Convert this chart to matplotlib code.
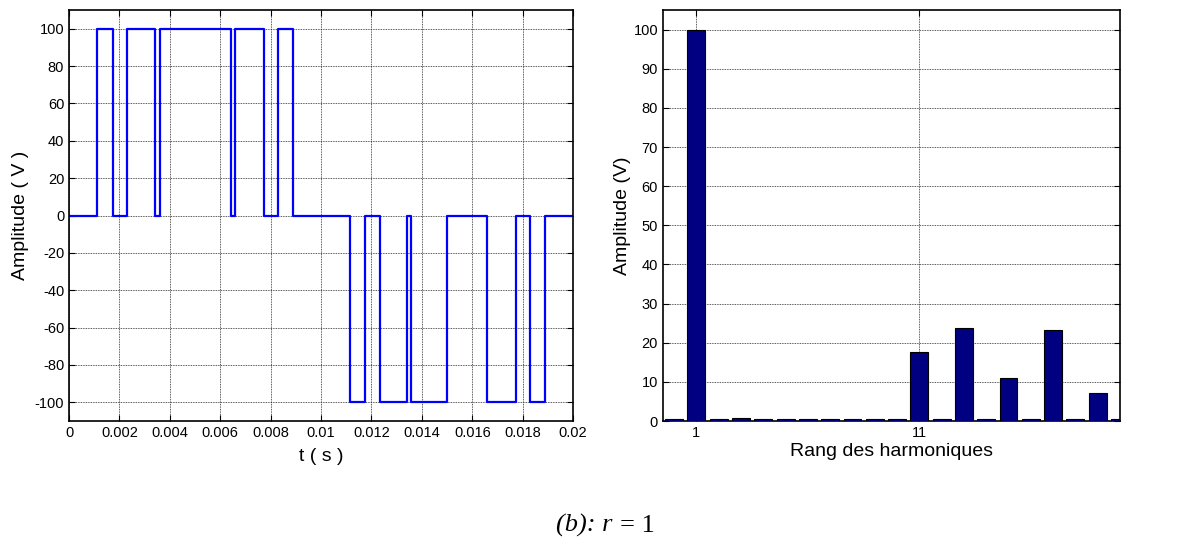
import numpy as np
import matplotlib.pyplot as plt

# tension de sortie (une periode) : instants de commutation et niveaux
t_sw = [0, 0.00112, 0.00174, 0.00231, 0.00341, 0.00359, 0.00643, 0.0066,
        0.00772, 0.00828, 0.00887, 0.01113, 0.01174, 0.01232, 0.01341,
        0.01358, 0.01498, 0.01658, 0.01772, 0.01828, 0.01887, 0.02]
v_sw = [0, 100, 0, 100, 0, 100, 0, 100, 0, 100, 0, -100, 0, -100, 0,
        -100, 0, -100, 0, -100, 0, 0]

# spectre harmonique
rang = list(range(0, 21))
amp_h = [0.4, 100, 0.4, 0.7, 0.4, 0.4, 0.4, 0.4, 0.4, 0.4, 0.4,
         17.6, 0.4, 23.8, 0.4, 11.1, 0.4, 23.2, 0.4, 7.2, 0.4]

plt.rcParams['font.family'] = ['Liberation Sans', 'DejaVu Sans']
plt.rcParams['axes.unicode_minus'] = False

fig = plt.figure(figsize=(12.03, 5.44), dpi=100)
ax1 = fig.add_axes([0.0574, 0.2261, 0.419, 0.7555])
ax2 = fig.add_axes([0.5511, 0.2261, 0.3799, 0.7555])


def matlab_style(ax):
    ax.tick_params(direction='in', top=True, right=True, labelsize=10.5,
                   length=4, width=0.8)
    ax.grid(True, color='#222222', linestyle=(0, (1, 1)), linewidth=0.6)
    for s in ax.spines.values():
        s.set_linewidth(1.2)


ax1.step(t_sw, v_sw, where='post', color='#0000ff', lw=1.6)
ax1.set_xlim(0, 0.02)
ax1.set_ylim(-110, 110)
ax1.set_xticks(np.arange(0, 0.0201, 0.002))
ax1.set_xticklabels(['0', '0.002', '0.004', '0.006', '0.008', '0.01',
                     '0.012', '0.014', '0.016', '0.018', '0.02'])
ax1.set_yticks(np.arange(-100, 101, 20))
ax1.set_xlabel('t ( s )', fontsize=14, labelpad=6)
ax1.set_ylabel('Amplitude ( V )', fontsize=14, labelpad=4)
matlab_style(ax1)

ax2.bar(rang, amp_h, width=0.8, color='#000080', edgecolor='k', lw=0.8,
        zorder=3)
ax2.set_xlim(-0.5, 20)
ax2.set_ylim(0, 105)
ax2.set_xticks([1, 11])
ax2.set_yticks(np.arange(0, 101, 10))
ax2.set_xlabel('Rang des harmoniques', fontsize=14, labelpad=2)
ax2.set_ylabel('Amplitude (V)', fontsize=14, labelpad=2)
matlab_style(ax2)

fig.text(0.509, 0.022, '(b): r', family='Liberation Serif', style='italic',
         fontsize=19, ha='right', va='baseline')
fig.text(0.515, 0.022, '= 1', family='Liberation Serif', fontsize=19,
         ha='left', va='baseline')

fig.savefig('out.png', dpi=100)
